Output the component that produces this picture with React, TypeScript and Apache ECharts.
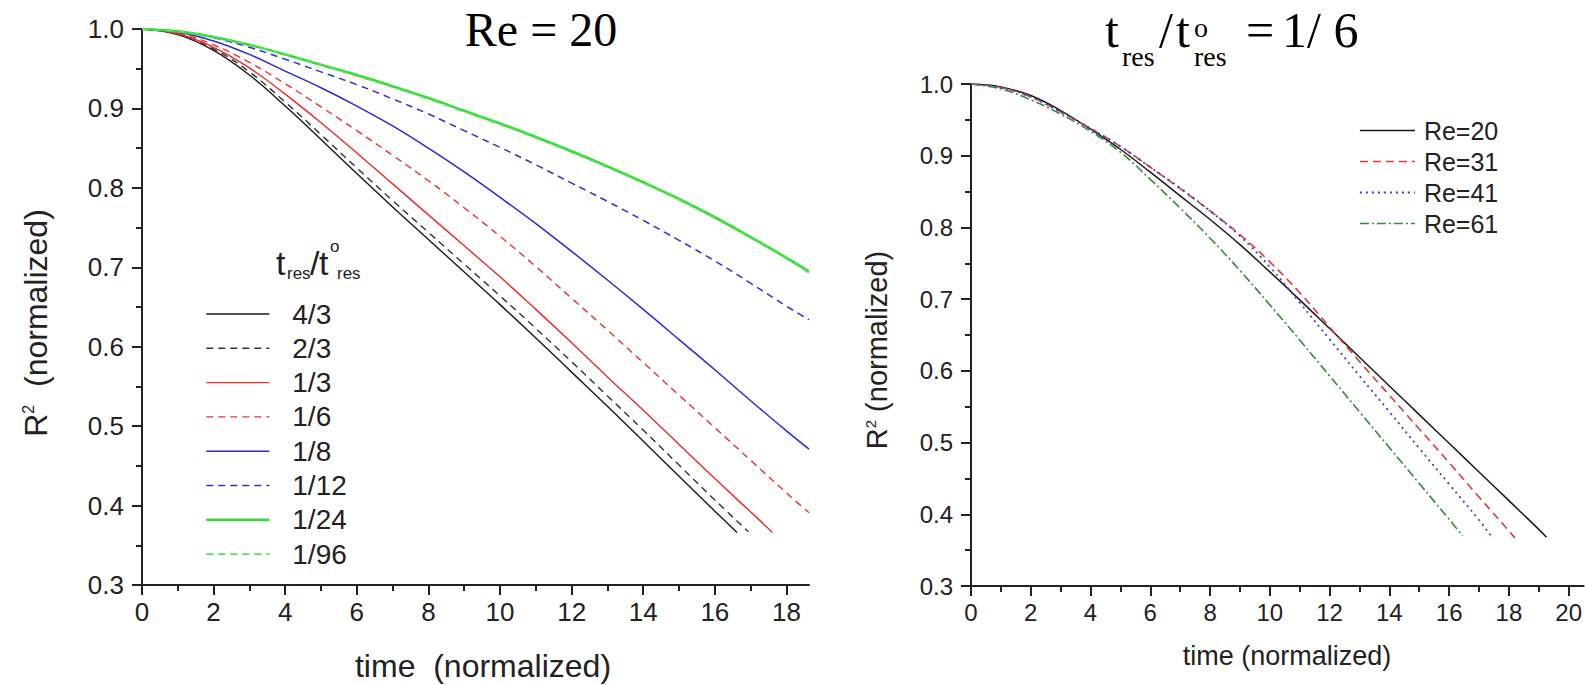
import { useEffect, useRef } from 'react';
import * as echarts from 'echarts';

// ---------- Left chart: Re = 20, different t_res/t°_res ----------
const leftNames = ['4/3', '2/3', '1/3', '1/6', '1/8', '1/12', '1/24', '1/96'];

const tL43 = [0, 1, 2, 3, 4, 5, 6, 7, 8, 9, 10, 11, 12, 13, 14, 15, 16, 16.62];
const vL43 = [1.0, 0.993, 0.973, 0.942, 0.903, 0.861, 0.818, 0.776, 0.735, 0.694, 0.653, 0.611, 0.568, 0.525, 0.481, 0.437, 0.393, 0.366];

const tL23 = [0, 1, 2, 3, 4, 5, 6, 7, 8, 9, 10, 11, 12, 13, 14, 15, 16, 16.94];
const vL23 = [1.0, 0.994, 0.975, 0.946, 0.908, 0.867, 0.825, 0.784, 0.744, 0.704, 0.664, 0.623, 0.581, 0.538, 0.495, 0.451, 0.407, 0.367];

const tL13 = [0, 1, 2, 3, 4, 5, 6, 7, 8, 9, 10, 11, 12, 13, 14, 15, 16, 17, 17.61];
const vL13 = [1.0, 0.994, 0.977, 0.951, 0.918, 0.882, 0.844, 0.805, 0.766, 0.727, 0.688, 0.647, 0.605, 0.562, 0.52, 0.477, 0.434, 0.392, 0.366];

const tL16 = [0, 1, 2, 3, 4, 5, 6, 7, 8, 9, 10, 11, 12, 13, 14, 15, 16, 17, 18, 18.63];
const vL16 = [1.0, 0.995, 0.98, 0.958, 0.931, 0.902, 0.872, 0.841, 0.809, 0.775, 0.739, 0.701, 0.661, 0.621, 0.58, 0.539, 0.498, 0.457, 0.416, 0.391];

const tL18 = [0, 1, 2, 3, 4, 5, 6, 7, 8, 9, 10, 11, 12, 13, 14, 15, 16, 17, 18, 18.63];
const vL18 = [1.0, 0.996, 0.985, 0.968, 0.947, 0.926, 0.903, 0.878, 0.85, 0.82, 0.788, 0.755, 0.72, 0.684, 0.647, 0.609, 0.571, 0.532, 0.494, 0.471];

const tL112 = [0, 1, 2, 3, 4, 5, 6, 7, 8, 9, 10, 11, 12, 13, 14, 15, 16, 17, 18, 18.63];
const vL112 = [1.0, 0.997, 0.989, 0.977, 0.962, 0.946, 0.93, 0.912, 0.893, 0.872, 0.851, 0.829, 0.806, 0.783, 0.759, 0.734, 0.708, 0.68, 0.651, 0.634];

const tL124 = [0, 1, 2, 3, 4, 5, 6, 7, 8, 9, 10, 11, 12, 13, 14, 15, 16, 17, 18, 18.63];
const vL124 = [1.0, 0.997, 0.99, 0.98, 0.968, 0.955, 0.942, 0.928, 0.913, 0.897, 0.881, 0.864, 0.846, 0.827, 0.807, 0.786, 0.763, 0.738, 0.712, 0.695];

const tL196 = [0, 1, 2, 3, 4, 5, 6, 7, 8, 9, 10, 11, 12, 13, 14, 15, 16, 17, 18, 18.63];
const vL196 = [1.0, 0.997, 0.99, 0.98, 0.968, 0.955, 0.941, 0.927, 0.912, 0.896, 0.88, 0.863, 0.845, 0.826, 0.806, 0.785, 0.762, 0.737, 0.711, 0.693];

// ---------- Right chart: t_res/t°_res = 1/6, different Re ----------
const rightNames = ['Re=20', 'Re=31', 'Re=41', 'Re=61'];

const tR20 = [0, 1, 2, 3, 4, 5, 6, 7, 8, 9, 10, 11, 12, 13, 14, 15, 16, 17, 18, 19, 19.26];
const vR20 = [1.0, 0.996, 0.984, 0.963, 0.937, 0.909, 0.877, 0.844, 0.811, 0.776, 0.738, 0.699, 0.659, 0.619, 0.579, 0.539, 0.499, 0.459, 0.419, 0.379, 0.368];

const tR31 = [0, 1, 2, 3, 4, 5, 6, 7, 8, 9, 10, 11, 12, 13, 14, 15, 16, 17, 18, 18.2];
const vR31 = [1.0, 0.995, 0.982, 0.961, 0.938, 0.913, 0.884, 0.854, 0.823, 0.79, 0.752, 0.709, 0.661, 0.613, 0.566, 0.519, 0.472, 0.424, 0.377, 0.367];

const tR41 = [0, 1, 2, 3, 4, 5, 6, 7, 8, 9, 10, 11, 12, 13, 14, 15, 16, 17, 17.4];
const vR41 = [1.0, 0.995, 0.982, 0.961, 0.938, 0.913, 0.884, 0.855, 0.823, 0.788, 0.745, 0.695, 0.644, 0.593, 0.543, 0.492, 0.442, 0.392, 0.37];

const tR61 = [0, 1, 2, 3, 4, 5, 6, 7, 8, 9, 10, 11, 12, 13, 14, 15, 16, 16.45];
const vR61 = [1.0, 0.993, 0.978, 0.958, 0.934, 0.905, 0.867, 0.827, 0.785, 0.74, 0.692, 0.643, 0.593, 0.543, 0.493, 0.443, 0.393, 0.37];

// ---------- ticks ----------
const leftXMajor = [0, 2, 4, 6, 8, 10, 12, 14, 16, 18];
const leftXMinor = [1, 3, 5, 7, 9, 11, 13, 15, 17];
const rightXMajor = [0, 2, 4, 6, 8, 10, 12, 14, 16, 18, 20];
const rightXMinor = [1, 3, 5, 7, 9, 11, 13, 15, 17, 19];

const sans = '"Liberation Sans", Arial, sans-serif';
const serif = '"Liberation Serif", "Times New Roman", serif';
const axisColor = '#222';

const pairs = (t: number[], v: number[]) => t.map((x, i) => [x, v[i]]);

function xAxes(grid: number, max: number, major: number[], minor: number[], labelSize: number) {
  return [
    {
      gridIndex: grid, type: 'value', position: 'bottom', min: 0, max,
      axisLine: { show: true, onZero: false, lineStyle: { color: axisColor, width: 2 } },
      axisTick: { show: true, inside: false, length: 10, customValues: major, lineStyle: { color: axisColor, width: 2 } },
      axisLabel: { customValues: major, fontSize: labelSize, color: axisColor, fontFamily: sans, margin: 14 },
      splitLine: { show: false },
    },
    {
      gridIndex: grid, type: 'value', position: 'bottom', min: 0, max,
      axisLine: { show: false, onZero: false },
      axisTick: { show: true, inside: false, length: 6, customValues: minor, lineStyle: { color: axisColor, width: 2 } },
      axisLabel: { show: false },
      splitLine: { show: false },
    },
  ];
}

function yAxis(grid: number, labelSize: number) {
  return {
    gridIndex: grid, type: 'value', min: 0.3, max: 1.0, interval: 0.1,
    axisLine: { show: true, onZero: false, lineStyle: { color: axisColor, width: 2 } },
    axisTick: { show: true, inside: false, length: 10, lineStyle: { color: axisColor, width: 2 } },
    minorTick: { show: true, splitNumber: 2, length: 6, lineStyle: { color: axisColor, width: 2 } },
    axisLabel: { formatter: (v: number) => v.toFixed(1), fontSize: labelSize, color: axisColor, fontFamily: sans, margin: 18 },
    splitLine: { show: false },
    minorSplitLine: { show: false },
  };
}

function yTitle(x: number, y: number, size: number, gap: string) {
  return {
    type: 'text', x, y, rotation: Math.PI / 2,
    style: {
      text: `{a|R}{s|2}{a|${gap}(normalized)}`,
      align: 'center', verticalAlign: 'middle',
      rich: {
        a: { fontSize: size, fontFamily: sans, fill: axisColor, color: axisColor },
        s: { fontSize: Math.round(size * 0.5), fontFamily: sans, fill: axisColor, color: axisColor, verticalAlign: 'top' },
      },
    },
  };
}

function txt(text: string, x: number, y: number, font: string, align = 'left', fill = axisColor) {
  return { type: 'text', x, y, style: { text, font, fill, align, verticalAlign: 'middle' } };
}

function line(name: string, t: number[], v: number[], xi: number, yi: number, color: string, type: any, width: number) {
  return {
    name, type: 'line', xAxisIndex: xi, yAxisIndex: yi,
    data: pairs(t, v), showSymbol: false, symbol: 'none', smooth: 0.4,
    lineStyle: { color, type, width },
    itemStyle: { color },
    clip: true,
  };
}

const dash: number[] = [7, 5];

export default function App() {
  const ref = useRef<HTMLDivElement>(null);
  useEffect(() => {
    if (!ref.current) return;
    const chart = echarts.init(ref.current, undefined, { renderer: 'svg' });

    const lSeries = [
      line(leftNames[0], tL43, vL43, 0, 0, '#1a1a1a', 'solid', 1.4),
      line(leftNames[1], tL23, vL23, 0, 0, '#333333', dash, 1.4),
      line(leftNames[2], tL13, vL13, 0, 0, '#ee2a2a', 'solid', 1.4),
      line(leftNames[3], tL16, vL16, 0, 0, '#ee3030', dash, 1.4),
      line(leftNames[4], tL18, vL18, 0, 0, '#2a2ad8', 'solid', 1.5),
      line(leftNames[5], tL112, vL112, 0, 0, '#3030dd', dash, 1.5),
      line(leftNames[6], tL124, vL124, 0, 0, '#33dd33', 'solid', 2.6),
      line(leftNames[7], tL196, vL196, 0, 0, '#55e055', dash, 1.8),
    ];
    const rSeries = [
      line(rightNames[0], tR20, vR20, 2, 1, '#1a1a1a', 'solid', 1.5),
      line(rightNames[1], tR31, vR31, 2, 1, '#e23a3a', [8, 5], 1.6),
      line(rightNames[2], tR41, vR41, 2, 1, '#3b3be6', [2, 4], 1.8),
      line(rightNames[3], tR61, vR61, 2, 1, '#2f8f3a', [9, 3, 2, 3], 1.6),
    ];

    const legendData = (names: string[], series: any[]) =>
      names.map((n, i) => ({
        name: n,
        lineStyle: { color: series[i].lineStyle.color, type: series[i].lineStyle.type, width: series[i].lineStyle.width },
      }));

    chart.setOption({
      animation: false,
      backgroundColor: '#ffffff',
      grid: [
        { left: 142, top: 29, width: 667, height: 556 },
        { left: 971, top: 84, width: 614, height: 502 },
      ],
      xAxis: [
        ...xAxes(0, 18.63, leftXMajor, leftXMinor, 26),
        ...xAxes(1, 20.5, rightXMajor, rightXMinor, 24),
      ],
      yAxis: [yAxis(0, 26), yAxis(1, 24)],
      legend: [
        {
          data: legendData(leftNames, lSeries),
          orient: 'vertical', left: 200, top: 295,
          itemWidth: 63, itemHeight: 28, itemGap: 6.3,
          itemStyle: { opacity: 0 },
          selectedMode: false,
          textStyle: { fontSize: 28, lineHeight: 28, color: axisColor, fontFamily: sans, padding: [0, 0, 0, 18] },
        },
        {
          data: legendData(rightNames, rSeries),
          orient: 'vertical', left: 1354, top: 113,
          itemWidth: 55, itemHeight: 25, itemGap: 6,
          itemStyle: { opacity: 0 },
          selectedMode: false,
          textStyle: { fontSize: 25, lineHeight: 25, color: axisColor, fontFamily: sans, padding: [0, 0, 0, 4] },
        },
      ],
      graphic: [
        // axis titles
        yTitle(36, 323, 32, '  '),
        yTitle(877, 350, 29, ' '),
        txt('time  (normalized)', 483, 666, `32px ${sans}`, 'center'),
        txt('time (normalized)', 1287, 656, `27px ${sans}`, 'center'),
        // left title
        txt('Re = 20', 541, 29, `48px ${serif}`, 'center', '#000'),
        // right title: t_res / t°_res = 1/ 6
        txt('t', 1105, 30, `50px ${serif}`, 'left', '#000'),
        txt('res', 1122, 56, `28px ${serif}`, 'left', '#000'),
        txt('/', 1159, 30, `50px ${serif}`, 'left', '#000'),
        txt('t', 1176, 30, `50px ${serif}`, 'left', '#000'),
        txt('o', 1194, 27, `28px ${serif}`, 'left', '#000'),
        txt('res', 1194, 56, `28px ${serif}`, 'left', '#000'),
        txt('=', 1246, 30, `50px ${serif}`, 'left', '#000'),
        txt('1/ 6', 1282, 30, `50px ${serif}`, 'left', '#000'),
        // left legend title: t_res / t°_res
        txt('t', 276, 263, `34px ${sans}`),
        txt('res', 287, 273, `17px ${sans}`),
        txt('/', 310, 263, `34px ${sans}`),
        txt('t', 319, 263, `34px ${sans}`),
        txt('o', 330, 246, `17px ${sans}`),
        txt('res', 337, 273, `17px ${sans}`),
      ],
      series: [...lSeries, ...rSeries],
    });
    return () => chart.dispose();
  }, []);
  return <div ref={ref} style={{ position: 'absolute', left: 0, top: 0, width: 1585, height: 685, background: '#fff' }} />;
}
